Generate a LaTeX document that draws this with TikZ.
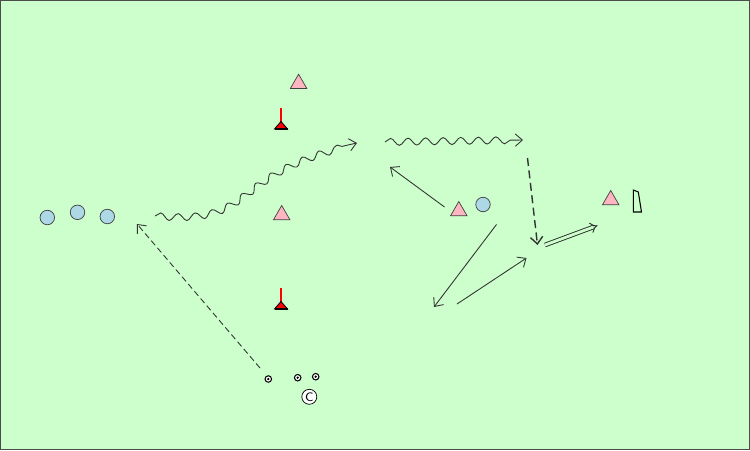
\documentclass[tikz,border=0pt]{standalone}
\usetikzlibrary{calc}
\usetikzlibrary{arrows.meta,decorations.pathmorphing,shapes.geometric}
\definecolor{pitch}{RGB}{204,255,204}
\definecolor{shirtblue}{RGB}{173,216,230}
\definecolor{shirtpink}{RGB}{255,182,193}

\begin{document}
\begin{tikzpicture}[x=0.02cm, y=-0.02cm, >={Straight Barb[length=4pt,width=7pt]},
	player/.style={circle, draw=black!75, fill=shirtblue, minimum size=0.29cm, inner sep=0pt},
	opponent/.style={regular polygon, regular polygon sides=3, draw=black!75, fill=shirtpink, minimum size=0.38cm, inner sep=0pt},
	ball/.style={circle, draw=black, line width=0.6pt, fill=white, minimum size=0.13cm, inner sep=0pt},
	coachnode/.style={circle, draw=black, fill=white, minimum size=0.3cm, inner sep=0pt, font=\sffamily\scriptsize},
	runline/.style={black!80, line width=0.5pt},
	passline/.style={black!80, line width=0.5pt, dash pattern=on 0.12cm off 0.07cm},
	dribble/.style={black!80, line width=0.5pt, decorate, decoration={snake, amplitude=2pt, segment length=10pt, post length=5pt}}]

			\useasboundingbox (0,0) rectangle (750,450);
			\fill[pitch] (0,0) rectangle (750,450);
			\draw[black!70, line width=0.6pt] (0.5,0.5) rectangle (749.5,449.5);

			\node[player] (pl1) at (47.3,217.5){};
			\node[player] (pl2) at (77.5,212.3){};
			\node[player] (pl3) at (107.3,216.5){};
			\node[player] (pl4) at (483,204.5){};

			\node[opponent] (op1) at (298.6,83.7){};
			\node[opponent] (op2) at (281.7,215){};
			\node[opponent] (op3) at (458.8,211){};
			\node[opponent] (op4) at (610.7,200){};

			%cones
			\coordinate (cone1) at (281,129);
			\coordinate (cone2) at (281,309);
			\draw[red, line width=1pt] (cone1) -- ++(0,-21);
			\draw[red, line width=1pt] (cone2) -- ++(0,-21);
			\draw[black, fill=red, line width=0.5pt] ($(cone1)+(-6.5,0)$) -- ($(cone1)+(0,-7.5)$) -- ($(cone1)+(6.5,0)$) -- cycle;
			\draw[black, fill=red, line width=0.5pt] ($(cone2)+(-6.5,0)$) -- ($(cone2)+(0,-7.5)$) -- ($(cone2)+(6.5,0)$) -- cycle;
			\draw[black, line width=1.2pt] ($(cone1)+(-6.5,0)$) -- ($(cone1)+(6.5,0)$);
			\draw[black, line width=1.2pt] ($(cone2)+(-6.5,0)$) -- ($(cone2)+(6.5,0)$);

			\node[ball] (ball1) at (268.3,379){};
			\node[ball] (ball2) at (297.7,377.7){};
			\node[ball] (ball3) at (315.7,376.7){};
			\fill[black] (ball1) circle (1.3);
			\fill[black] (ball2) circle (1.3);
			\fill[black] (ball3) circle (1.3);
			\node[coachnode] (coach) at (309.3,396.8){C};

			\draw[black, line width=0.6pt] (633.3,190) -- (638.3,192) -- (641.5,212) -- (633.3,212) -- cycle;

			\coordinate (d1s) at (155,216);
			\coordinate (d1e) at (357,143);
			\coordinate (d2s) at (385,142);
			\coordinate (d2e) at (523,140);
			\coordinate (p1s) at (260,368);
			\coordinate (p1e) at (137,224);
			\coordinate (p2s) at (527.5,158);
			\coordinate (p2e) at (537.5,245);
			\coordinate (r1s) at (444.5,207);
			\coordinate (r1e) at (390,167);
			\coordinate (r2s) at (496.5,224.5);
			\coordinate (r2e) at (434,307);
			\coordinate (r3s) at (457,304);
			\coordinate (r3e) at (526.5,258);
			\coordinate (s1s) at (545,245);
			\coordinate (s1e) at (597.5,225.5);

			\draw[dribble, ->] (d1s) .. controls (258,224) and (220,172) .. (d1e);
			\draw[dribble, ->] (d2s) -- (d2e);
			\draw[passline, ->] (p1s) -- (p1e);
			\draw[passline, ->, line width=0.8pt, dash pattern=on 0.16cm off 0.09cm] (p2s) -- (p2e);
			\draw[runline, ->] (r1s) -- (r1e);
			\draw[runline, ->] (r2s) -- (r2e);
			\draw[runline, ->] (r3s) -- (r3e);
			\draw[black!85, line width=0.5pt, double=pitch, double distance=1.6pt, -{Implies}] (s1s) -- (s1e);

		\end{tikzpicture}
\end{document}
